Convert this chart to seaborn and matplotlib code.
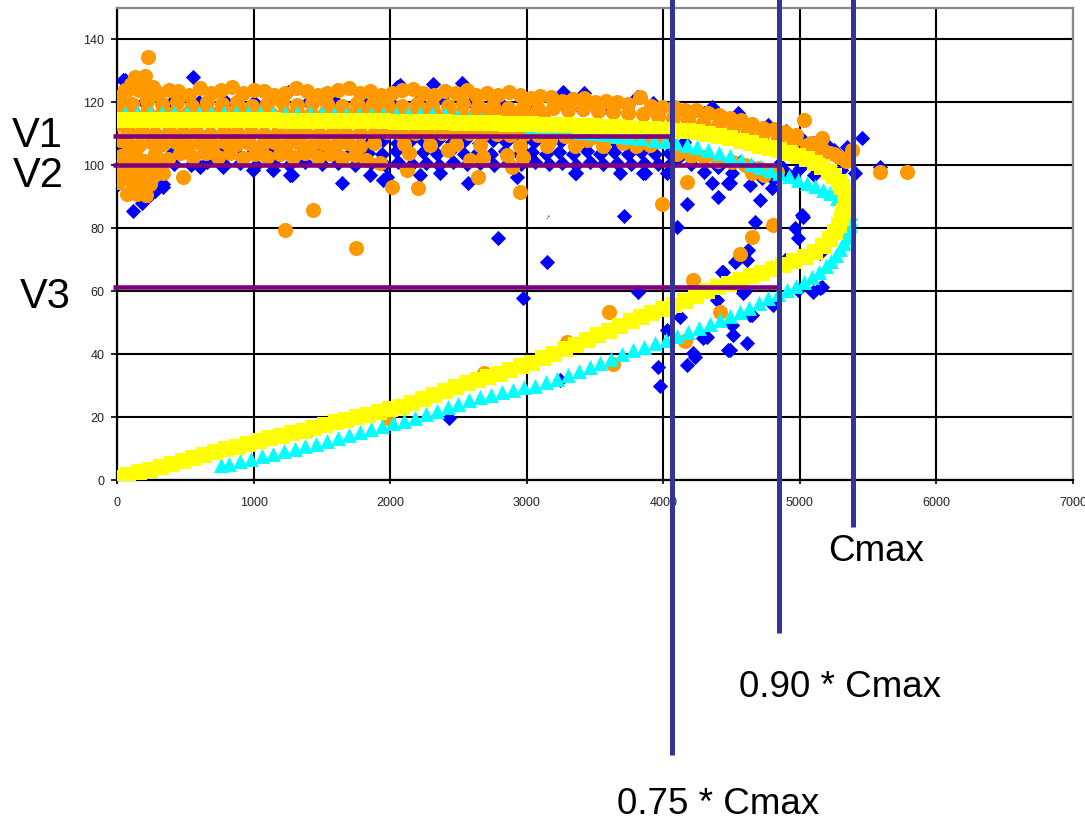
import matplotlib
matplotlib.use('Agg')
import matplotlib.pyplot as plt
import pandas as pd
import seaborn as sns

orange_top = [(70,124),(150,126),(230,124.5),(300,123),(380,124),(450,123.5),(530,122.5),(610,124.5),(690,123),(760,123.8),
              (840,124.8),(920,123),(1000,124),(1080,123.5),(1150,122.5),(1230,123),(1310,124.5),(1390,123.5),(1470,122.5),
              (1540,123),(1620,123.8),(1700,124.5),(1780,123),(1850,123.5),(1930,122.5),(2010,123),(2090,123.8),(2170,124.2),
              (2240,123),(2320,122.5),(2400,123.5),(2480,123),(2560,124),(2630,122.5),(2710,123),(2790,122.5),(2870,123.2),
              (2950,122.5),(3030,121.5),(3100,122),(3180,121.8),(3260,120.5),(3340,121),(3420,121.5),(3500,120),(3580,120.5),
              (3660,120),(3740,119.5),(3830,121.7),(3910,119),(3990,118.5),(4080,118.5),(4160,117.5),(4240,117.5),(4330,116.5),
              (4410,116),(4490,115),(4570,114.5),(4650,113),(4730,112),(4810,111.5),(4890,110.5),(4970,109.5)]
orange_row2 = [(110,119.5),(220,120.5),(330,119.5),(440,120),(550,119),(660,120),(770,119.5),(880,120),(990,119),(1100,119.5),
               (1210,120),(1320,119.3),(1430,119.7),(1540,119.5),(1650,119),(1760,119.8),(1870,119.2),(1980,119.6),(2090,119),
               (2200,119.5),(2310,119.2),(2420,119),(2530,119.4),(2640,118.7),(2750,119),(2860,118.3),(2970,118.5),(3080,118),
               (3190,118.2),(3300,117.6),(3410,117.8),(3520,117.2),(3630,116.8),(3740,116.6),(3850,116.2),(3960,115.6),(4070,115),
               (4180,114.4),(4290,113.6),(4400,112.8),(4510,111.8),(4620,110.8),(4730,109.8),(4840,108.8),(4950,107.8),(5050,106.5),
               (5140,105.2),(5220,104),(5290,102.8),(5340,101.5)]
orange_under = [(120,116.5),(220,116.8),(320,116.4),(420,116.7),(520,116.5),(620,116.8),(720,116.4),(820,116.6),(920,116.8),
                (1020,116.4),(1120,116.7),(1220,116.5),(1320,116.8),(1420,116.4),(1520,116.6),(1620,116.8),(1720,116.4),
                (1820,116.7),(1920,116.5),(2020,116.8),(2120,116.4),(2220,116.6),(2320,116.7),(2420,116.3),(2520,116.5),
                (2620,116.2),(2720,116),(2820,115.8),(2920,115.5),(3020,115.3),(3120,115)]
orange_mid = [(80,110.5),(180,111),(280,110),(380,110.8),(480,110.2),(580,110.6),(680,110),(780,110.7),(880,110.2),(980,110.5),
              (1080,110),(1180,110.6),(1280,110.2),(1380,110.5),(1480,110),(1580,110.6),(1680,110.1),(1780,110.4),(1880,110),
              (1980,110.5),(2080,110.1),(2180,110.4),(2280,110),(2380,110.3),(2480,110),(2580,110.2),(2680,109.8),(2780,110),
              (2880,109.7),(2980,109.8),(3080,109.5),(3180,109.6),(3280,109.2),(3380,109.3),(3480,109),(3580,108.8),(3680,108.6),
              (3780,108.2),(3880,108),(3980,107.6)]
orange_low = [(70,107),(160,106.5),(250,107.5),(340,106.8),(430,107.3),(520,106.5),(610,107.2),(700,106.6),(790,107.4),(880,106.7),
              (970,107.1),(1060,106.4),(1150,107.3),(1240,106.6),(1330,107),(1420,106.3),(1510,107.2),(1600,106.5),(1690,107),
              (1780,106.2),(1880,107),(2100,106.8),(2290,106.6),(2480,106.9),(2660,106.4),(2950,106.2),(3150,106),(3350,106.2),
              (3560,106),(3800,106),
              (60,103),(130,100),(200,101.5),(280,103.5),(370,102),(460,103.8),(560,102.5),(650,104),(740,102.8),(830,103.8),
              (920,102.3),(1010,103.6),(1100,102.8),(1190,103.5),(1290,102.6),(1380,103.8),(1470,102.7),(1560,103.6),(1650,102.2),
              (1740,103.3),(1820,101.8),(2140,104),(2420,105)]
orange_left = [(40,98),(30,103),(60,99),(90,96),(120,93),(150,91),(180,92.5),(210,90.5),(240,94),(270,97),(100,101),(170,97),
               (230,100),(300,98.5),(20,108),(50,113),(30,118),(20,122),(60,124),(100,126),(132,128),(205,128.4),(160,124),
               (260,125),(300,100.5),(340,97.5),(70,91),(200,95),(130,104),(20,113)]
orange_branch = [(4100,103.5),(4200,103),(4300,102.5),(4400,101.5),(4500,101),(4600,100),(4700,99),(4800,98.5),
                 (4650,97.5),(4740,97),(4830,97.8),(5080,107),(5170,105),(5250,103.5)]
orange_scatter = [(227,134.4),(1230,79.4),(1437,85.8),(1748,73.7),(10,94.7),(485,96.3),(2010,93.2),(2205,92.7),(2950,91.5),
                  (4173,94.7),(3990,87.7),(4803,81),(4650,77.2),(4562,71.8),(4218,63.6),(5030,114.4),(5163,108.7),(5380,104.9),
                  (5587,97.9),(5785,97.9),(3603,53.4),(3295,43.9),(2690,34),(4415,53.4),(4160,44.2),(3633,37),(1400,15.9),
                  (1985,19.7),(2123,98.5),(2643,96.3),(1925,100.7),(2585,101.7),(2680,102.6),(2855,103.3),(2973,102.6),
                  (2892,99.5),(3170,108),(3442,108),(3705,107),(3807,106.5),(3900,106.5)]

blue_top = [(58,127),(44,127),(557,128),(1252,123.3),(2050,125),(2072,125.5),(2313,126),(2525,126.3),(3265,123.2),(3420,123),
            (3807,121.7),(3925,119.8),(200,120),(400,120),(600,120),(800,120),(1000,120),(1200,120),(1400,120),(1600,120),
            (1800,120),(2000,120),(2200,120),(2400,120),(2600,120),(2800,120),(3000,119),(3200,118.5),(3400,118),(3600,117.5),
            (10,105),(22,117.6)]
blue_band = [(1850,107.5),(1950,108),(2050,107.2),(2150,108),(2250,107.4),(2350,108.2),(2450,107.5),(2550,108),(2650,107.2),
             (2750,108),(2850,107.5),(2950,108),(3050,107.3),(3150,108),(3250,107.6),(3350,108.3),(3450,107.5),(3550,108),
             (3650,107.4),(3750,108),(3850,107.5),(3950,107.8),(4050,107),(4150,107.5),
             (400,104),(520,104.5),(640,103.8),(760,104.4),(880,104),(1000,104.6),(1120,103.8),(1240,104.5),(1360,104),
             (1480,104.6),(1600,103.8),(1720,104.4),(1840,104),(1940,103.5),(2040,104.5),(2140,103.6),(2240,104.3),(2340,103.5),
             (2440,104.4),(2540,103.6),(2640,104.2),(2740,103.5),(2840,104.4),(2940,103.6),(3040,104.3),(3140,103.5),(3240,104.2),
             (3340,103.6),(3440,104.4),(3540,103.5),(3640,104.3),(3740,103.7),(3840,104.2),(3940,103.5),(4040,104),(4140,103.6),
             (300,99),(420,100.5),(540,100),(660,101),(780,100.3),(900,100.8),(1020,100),(1140,100.6),(1260,100.2),(1380,101),
             (1500,100.4),(1620,100.8),(1740,100),(1860,100.6),(1960,100.2),(2060,101),(2160,100.3),(2260,100.8),(2360,100.2),
             (2460,101),(2560,100.4),(2660,100.9),(2760,100.2),(2860,100.8),(2960,100.3),(3060,101),(3160,100.4),(3260,100.8),
             (3360,100.2),(3460,101),(3560,100.4),(3660,100.9),(3760,100.3),(3860,100.8),(3960,100.5),(4060,100.8),
             (608,99.5),(776,99.5),(996,98.5),(1142,98.5),(1267,97),(1647,94.4),(1852,97),(1977,96.3),(2218,97),(2365,97.6),
             (2570,94.4),(2929,96.3),(3353,97.6),(3683,97.6),(3851,97.6),(4027,97.6),(1280,97),(1950,95.3),
             (117,85.5),(217,90.6),(278,92),(340,94),(242,90.6),(337,93),(180,88),(10,94)]
blue_congested = [(2790,76.9),(3148,69.2),(3710,83.9),(3360,97.6),(3866,97.6),(4173,87.7),(4100,80.4),(4357,94.4),(4400,90),
                  (4474,94.4),(4708,89),(4672,82),(4357,118.5),(4547,116.6),(4767,112.8),(5455,108.7),(5587,99.5),(5404,97.6),
                  (5023,83.6),(4965,80),(4987,76.9),(4489,94.4),(4635,93.7),(4796,92.8),(5133,72.5),(5162,61.3),(5096,59.7),
                  (4437,66.1),(4620,73.1),(4525,69.3),(4584,59.4),(4987,60.4),(4489,41.3),(4613,43.5),(4510,46),(4635,52.4),
                  (4803,55.6),(4540,70),(3960,36),(3975,29.9),(4173,36.5),(4218,40.4),(4474,41.3),(4290,45),(4122,51.8),
                  (4503,49.2),(4650,52.4),(4393,57.2),(4613,69.9),(2973,57.8),(3815,59.7),(2431,19.7),(3244,31.8),(4027,47.7),
                  (4430,66),(5016,84.2),(4891,69.9),(5148,72.1),(4320,45.4),(4232,39.1),(4598,60),(5148,61),
                  (4100,102),(4200,100.5),(4300,98),(4250,104),(4400,99.5),(4500,97.5),(4560,101),(4650,99.5),(4720,96),
                  (4800,95.5),(4850,100.5),(4900,98),(4950,96.5),(5000,99),(5100,97),(5200,97.5),(5300,98.5),(5250,105),
                  (5345,105.8),(5200,106.5),(4900,111),(5000,109),(5100,107),(4450,115),(4650,113),(4300,116.5),(4150,117.5)]

# Model curves (two speed-flow relations)
yellow_curve = [(60,114.3),(150,114.3),(240,114.3),(330,114.3),(420,114.3),(510,114.3),(600,114.3),(690,114.3),(780,114.3),
                (870,114.3),(960,114.3),(1050,114.3),(1140,114.3),(1230,114.2),(1320,114.2),(1410,114.2),(1500,114.2),
                (1590,114.1),(1680,114.1),(1770,114.1),(1860,114.0),(1950,114.0),(2040,113.9),(2130,113.9),(2220,113.8),
                (2310,113.7),(2400,113.7),(2490,113.6),(2580,113.5),(2670,113.4),(2760,113.3),(2850,113.2),(2940,113.1),
                (3030,113.0),(3120,112.9),(3210,112.8),(3300,112.7),(3390,112.6),(3480,112.5),(3570,112.3),(3660,112.1),
                (3750,111.9),(3840,111.7),(3930,111.5),(4010,111.3),(4090,111.0),(4170,110.8),(4250,110.5),(4330,110.0),
                (4410,109.3),(4490,108.6),(4570,107.8),(4640,107.0),(4710,106.3),(4780,105.6),(4850,104.8),(4920,103.9),
                (4990,102.9),(5050,101.9),(5110,100.7),(5160,99.5),(5210,98.0),(5250,96.5),(5285,94.8),(5310,93.0),
                (5330,91.0),(5340,89.0),
                (5335,87.5),(5325,85.6),(5310,83.3),(5290,81.0),(5260,78.7),(5220,76.5),(5170,74.5),(5110,72.6),(5040,71.0),
                (4960,69.6),(4880,68.3),(4800,67.0),(4720,65.8),(4640,64.7),(4560,63.6),(4480,62.4),(4400,61.2),(4320,60.0),
                (4240,58.5),(4160,57.0),(4080,55.5),(4000,54.2),(3920,53.0),(3840,51.7),(3760,50.5),(3680,49.0),(3600,47.5),
                (3520,46.0),(3440,44.6),(3360,43.0),(3280,41.6),(3200,40.1),(3120,38.7),(3040,37.3),(2960,36.1),(2880,35.0),
                (2800,33.8),(2720,32.8),(2640,31.7),(2560,30.7),(2480,29.5),(2400,28.2),(2320,27.0),(2240,25.7),(2160,24.5),
                (2080,23.3),(2000,22.5),(1920,21.7),(1840,20.8),(1760,20.0),(1680,19.2),(1600,18.3),(1520,17.4),(1440,16.5),
                (1360,15.7),(1280,14.9),(1200,14.0),(1120,13.2),(1040,12.3),(960,11.4),(880,10.6),(800,9.7),(720,8.8),
                (640,7.9),(560,6.9),(480,6.0),(400,5.1),(320,4.2),(240,3.3),(160,2.4),(80,1.5),(0,0.6)]
cyan_curve = [(60,116.6),(150,116.6),(240,116.6),(330,116.6),(420,116.6),(510,116.6),(600,116.6),(690,116.6),(780,116.6),
              (870,116.6),(960,116.6),(1050,116.5),(1140,116.5),(1230,116.5),(1320,116.5),(1410,116.5),(1500,116.5),
              (1590,116.4),(1680,116.4),(1770,116.4),(1860,116.4),(1950,116.3),(2040,116.3),(2130,116.3),(2220,116.2),
              (2310,116.2),(2400,116.2),(2490,115.8),(2580,115.2),(2670,114.6),(2760,114.0),(2850,113.5),(2940,113.0),
              (3030,112.5),(3120,112.0),(3210,111.5),(3300,111.0),(3390,110.6),(3480,110.2),(3570,109.8),(3660,109.4),
              (3750,109.0),(3840,108.6),(3930,108.1),(4010,107.6),(4090,107.0),(4170,106.4),(4250,105.7),(4330,104.9),
              (4410,104.0),(4490,102.9),(4570,101.6),(4640,100.5),(4710,99.5),(4780,98.5),(4850,97.5),(4920,96.5),
              (4990,95.4),(5050,94.4),(5110,93.4),(5170,92.3),(5220,91.2),(5270,89.6),(5310,88.2),(5345,86.8),
              (5365,85.0),(5370,83.0),(5365,81.0),(5355,79.0),(5340,77.2),(5320,75.3),(5295,73.5),(5265,71.5),(5230,69.6),
              (5190,68.0),(5140,66.2),(5090,64.5),(5030,62.9),(4970,61.5),(4906,60.4),(4840,59.2),(4770,57.8),(4700,56.4),
              (4630,54.8),(4560,53.5),(4490,52.2),(4415,50.8),(4340,49.6),(4260,48.3),(4180,47.0),(4100,45.8),(4020,44.6),
              (3940,43.5),(3860,42.4),(3780,41.3),(3700,40.0),(3620,38.6),(3540,37.2),(3460,35.9),(3380,34.6),(3300,33.4),
              (3220,32.2),(3140,31.0),(3060,30.0),(2980,29.4),(2900,28.6),(2820,27.9),(2740,27.1),(2660,26.3),(2580,25.3),
              (2500,24.3),(2420,23.2),(2340,22.0),(2260,20.9),(2180,19.8),(2100,18.8),(2020,18.0),(1940,17.2),(1860,16.3),
              (1780,15.3),(1700,14.3),(1620,13.3),(1540,12.3),(1460,11.5),(1380,10.7),(1300,9.9),(1220,9.1),(1140,8.3),
              (1060,7.5),(980,6.7),(900,5.9),(820,5.2),(760,4.8)]

# Capacity markers (flow) and speed levels
cap_names = ['Cmax', '0.90 * Cmax', '0.75 * Cmax']
cap_flows = [5390, 4845, 4062]
speed_names = ['V1', 'V2', 'V3']
speed_values = [109.4, 100, 61.4]
speed_limit_flow = [4062, 4845, 4845]


def frame(*groups):
    rows = [p for g in groups for p in g]
    return pd.DataFrame(rows, columns=['flow', 'speed'])


blue_df = frame(blue_top, blue_band, blue_congested)
orange_df = frame(orange_under, orange_top, orange_row2, orange_mid, orange_low, orange_left, orange_branch, orange_scatter)
yellow_df = frame(yellow_curve)
cyan_df = frame(cyan_curve)

sns.set_style('white')
plt.rcParams['font.family'] = ['Liberation Sans', 'DejaVu Sans']
plt.rcParams['text.color'] = 'black'

W, H = 1085, 821
fig = plt.figure(figsize=(W / 100, H / 100), dpi=100)
ax = fig.add_axes([117 / W, 1 - 480 / H, 956 / W, 472 / H])

sns.scatterplot(data=blue_df, x='flow', y='speed', marker='D', s=60, color='#0000ff', linewidth=0, ax=ax, zorder=2)
sns.scatterplot(data=orange_df, x='flow', y='speed', marker='o', s=118, color='#ff9900', linewidth=0, ax=ax, zorder=3)
sns.scatterplot(data=cyan_df, x='flow', y='speed', marker='^', s=115, color='#00ffff', linewidth=0, ax=ax, zorder=4)
sns.scatterplot(data=yellow_df, x='flow', y='speed', marker='s', s=118, color='#ffff00', linewidth=0, ax=ax, zorder=5)

ax.set_xlim(0, 7000)
ax.set_ylim(0, 150)
ax.set_xticks(range(0, 7001, 1000))
ax.set_yticks(range(0, 141, 20))
ax.set_xlabel('')
ax.set_ylabel('')
ax.grid(True, color='black', linewidth=1.5)
ax.set_axisbelow(True)
ax.tick_params(axis='x', length=3, width=1.2, pad=9, labelsize=9, colors='black', labelcolor='#222222',
               direction='out', bottom=True)
ax.tick_params(axis='y', length=4, width=1.2, pad=5, labelsize=9, colors='black', labelcolor='#222222',
               direction='out', left=True)
for side in ['left', 'bottom']:
    ax.spines[side].set_color('black')
    ax.spines[side].set_linewidth(1.6)
for side in ['top', 'right']:
    ax.spines[side].set_color('#888888')
    ax.spines[side].set_linewidth(1.6)

# horizontal speed levels
for v, end in zip(speed_values, speed_limit_flow):
    ax.plot([-30, end], [v, v], color='#800080', lw=3.3, clip_on=False, zorder=6, solid_capstyle='butt')

# vertical capacity lines, running off the bottom of the axes
line_bottoms = [-14.9, -48.6, -87.4]
for x, yb in zip(cap_flows, line_bottoms):
    ax.plot([x, x], [yb, 155], color='#333399', lw=3.6, clip_on=False, zorder=7, solid_capstyle='butt')

ax.text(3156, 83.3, '-*', fontsize=5, ha='center', va='center', color='#333333')

# labels
for name, (px, py) in zip(speed_names, [(37, 147), (38, 187), (45, 308)]):
    fig.text(px / W, 1 - py / H, name, fontsize=30, ha='center', va='baseline', color='black')
for name, (px, py) in zip(cap_names, [(876, 561), (840, 697), (718, 814)]):
    fig.text(px / W, 1 - py / H, name, fontsize=26.5, ha='center', va='baseline', color='black')

fig.savefig('out.png', dpi=100)
